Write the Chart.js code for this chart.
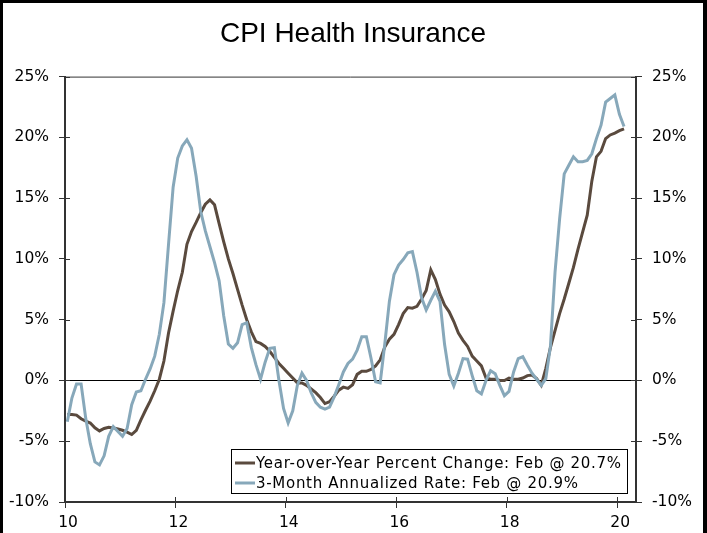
<!DOCTYPE html>
<html>
<head>
<meta charset="utf-8">
<title>CPI Health Insurance</title>
<script src="https://cdn.jsdelivr.net/npm/chart.js@4.4.1/dist/chart.umd.min.js"></script>
<style>
  html, body { margin: 0; padding: 0; background: #fff; }
  #wrap { width: 707px; height: 533px; }
</style>
</head>
<body>
<div id="wrap"><canvas id="cpiChart" width="707" height="533"></canvas></div>
<script>
// monthly data, Jan 2010 .. Feb 2020
const startYear = 2010;
const yoyChange = [
  -2.8, -2.8, -2.85, -3.15, -3.35, -3.5, -3.9, -4.15, -3.95, -3.85, -3.9, -4.0,
  -4.1, -4.25, -4.45, -4.1, -3.25, -2.45, -1.7, -0.85, 0.1, 1.6, 3.9, 5.7,
  7.4, 8.9, 11.2, 12.25, 13.0, 13.8, 14.5, 14.85, 14.45, 12.9, 11.4, 10.0,
  8.8, 7.5, 6.2, 5.0, 4.0, 3.2, 3.05, 2.8, 2.4, 1.9, 1.4, 1.0,
  0.6, 0.2, -0.2, -0.2, -0.4, -0.7, -1.0, -1.4, -1.9, -1.75, -1.3, -0.8,
  -0.55, -0.65, -0.35, 0.5, 0.75, 0.75, 0.9, 1.2, 1.7, 2.75, 3.4, 3.8,
  4.6, 5.5, 6.0, 5.95, 6.1, 6.7, 7.4, 9.1, 8.3, 7.1, 6.2, 5.65,
  4.85, 3.9, 3.3, 2.8, 2.0, 1.6, 1.2, 0.2, 0.1, 0.1, 0.0, 0.0,
  0.2, 0.1, 0.1, 0.2, 0.4, 0.45, 0.15, -0.4, 1.0, 2.7, 4.1, 5.5,
  6.7, 8.0, 9.3, 10.8, 12.2, 13.6, 16.4, 18.4, 18.85, 19.9, 20.2, 20.35,
  20.55, 20.7
];
const annualized3m = [
  -3.4, -1.45, -0.3, -0.3, -3.1, -5.2, -6.7, -6.95, -6.2, -4.6, -3.8, -4.2,
  -4.6, -3.95, -2.0, -0.95, -0.85, 0.1, 0.95, 2.0, 3.8, 6.4, 11.2, 15.9,
  18.3, 19.3, 19.8, 19.1, 16.8, 13.9, 12.3, 11.0, 9.7, 8.2, 5.3, 3.0,
  2.65, 3.1, 4.6, 4.75, 2.7, 1.3, 0.1, 1.5, 2.65, 2.7, 0.0, -2.3,
  -3.5, -2.5, -0.4, 0.6, 0.0, -1.0, -1.8, -2.2, -2.35, -2.2, -1.35, -0.35,
  0.7, 1.4, 1.75, 2.5, 3.6, 3.6, 1.85, -0.1, -0.2, 3.0, 6.5, 8.7,
  9.5, 9.95, 10.5, 10.6, 8.9, 6.8, 5.8, 6.6, 7.35, 6.5, 2.95, 0.5,
  -0.45, 0.6, 1.8, 1.75, 0.4, -0.85, -1.1, 0.0, 0.8, 0.55, -0.4, -1.25,
  -0.9, 0.7, 1.8, 1.95, 1.25, 0.6, 0.1, -0.4, 0.15, 2.8, 8.9, 13.3,
  17.0, 17.7, 18.4, 18.0, 18.0, 18.1, 18.65, 19.9, 21.0, 22.9, 23.2, 23.5,
  21.9, 20.9
];
const seriesLabels = [
  'Year-over-Year Percent Change: Feb @ 20.7%',
  '3-Month Annualized Rate: Feb @ 20.9%'
];
const yearTicks = [2010, 2012, 2014, 2016, 2018, 2020];
const pctTicks = [-10, -5, 0, 5, 10, 15, 20, 25];

// each month is drawn in the middle of its slot
const toPoints = vals => vals.map((v, i) => ({ x: startYear + (i + 0.5) / 12, y: v }));

const tickFont = { family: '"DejaVu Sans", Verdana, sans-serif', size: 15.5 };
const axisColor = '#333';

// black frame round the picture
const frame = {
  id: 'frame',
  afterDraw(chart) {
    const { ctx, width, height } = chart;
    ctx.save();
    ctx.fillStyle = '#000';
    ctx.fillRect(0, 0, 3, height);
    ctx.fillRect(0, 0, width, 3);
    ctx.fillRect(width - 4, 0, 4, height);
    ctx.restore();
  }
};

// top edge of the plot box + the inner half of the tick marks
const plotBox = {
  id: 'plotBox',
  beforeDatasetsDraw(chart) {
    const { ctx, chartArea: a, scales } = chart;
    ctx.save();
    ctx.strokeStyle = axisColor;
    ctx.lineWidth = 1;
    ctx.beginPath();
    ctx.moveTo(a.left, a.top + 0.5);
    ctx.lineTo(a.right, a.top + 0.5);
    pctTicks.forEach(v => {
      const py = Math.round(scales.y.getPixelForValue(v)) + 0.5;
      ctx.moveTo(a.left, py); ctx.lineTo(a.left + 5, py);
      ctx.moveTo(a.right - 5, py); ctx.lineTo(a.right, py);
    });
    yearTicks.forEach(v => {
      const px = Math.round(scales.x.getPixelForValue(v)) + 0.5;
      ctx.moveTo(px, a.bottom - 5); ctx.lineTo(px, a.bottom);
    });
    ctx.stroke();
    ctx.restore();
  }
};

// boxed legend in the lower right of the plot
const legendBox = {
  id: 'legendBox',
  afterDraw(chart) {
    const { ctx, chartArea: a } = chart;
    const sets = chart.data.datasets;
    const spacing = 0.7;
    ctx.save();
    ctx.font = '15px "DejaVu Sans", Verdana, sans-serif';
    const tw = Math.max(...sets.map(d => ctx.measureText(d.label).width + d.label.length * spacing));
    ctx.letterSpacing = spacing + 'px';
    const right = a.right - 9, bottom = a.bottom - 9;
    const left = Math.round(right - tw - 30), top = bottom - 44;
    ctx.fillStyle = '#fff';
    ctx.fillRect(left, top, right - left, bottom - top);
    ctx.strokeStyle = '#000';
    ctx.lineWidth = 1;
    ctx.strokeRect(left + 0.5, top + 0.5, right - left, bottom - top);
    sets.forEach((d, k) => {
      const y = top + 14 + k * 20;
      ctx.strokeStyle = d.borderColor;
      ctx.lineWidth = 3;
      ctx.beginPath();
      ctx.moveTo(left + 4, y);
      ctx.lineTo(left + 24, y);
      ctx.stroke();
      ctx.fillStyle = '#000';
      ctx.textBaseline = 'middle';
      ctx.fillText(d.label, left + 25, y + 1);
    });
    ctx.restore();
  }
};

const pctAxis = (position, width) => ({
  position,
  min: -10,
  max: 25,
  afterBuildTicks: s => { s.ticks = pctTicks.map(v => ({ value: v })); },
  afterFit: s => { s.width = width; },
  grid: {
    drawOnChartArea: position === 'left',
    color: c => (c.tick && c.tick.value === 0 ? '#000' : 'rgba(0,0,0,0)'),
    tickColor: axisColor,
    tickLength: 6
  },
  border: { color: axisColor, width: 2 },
  ticks: { font: tickFont, color: '#000', padding: 10, callback: v => v + '%' }
});

const ctx = document.getElementById('cpiChart').getContext('2d');
const cpiChart = new Chart(ctx, {
  type: 'line',
  data: {
    datasets: [{
      label: seriesLabels[0],
      data: toPoints(yoyChange),
      borderColor: '#5a4a3e',
      borderWidth: 3,
      pointRadius: 0,
      tension: 0,
      yAxisID: 'y',
      order: 1
    }, {
      label: seriesLabels[1],
      data: toPoints(annualized3m),
      borderColor: '#87a8ba',
      borderWidth: 3,
      pointRadius: 0,
      tension: 0,
      yAxisID: 'y',
      order: 0
    }]
  },
  options: {
    responsive: false,
    animation: false,
    layout: { padding: { left: 3, right: 4, top: 0, bottom: 0 } },
    plugins: {
      legend: { display: false },
      tooltip: { enabled: false },
      title: {
        display: true,
        text: 'CPI Health Insurance',
        color: '#000',
        font: { family: '"Liberation Sans", Arial, sans-serif', size: 28, weight: 'normal' },
        padding: { top: 17, bottom: 26 }
      }
    },
    scales: {
      x: {
        type: 'linear',
        min: startYear,
        max: startYear + 124.1 / 12,
        afterBuildTicks: s => { s.ticks = yearTicks.map(v => ({ value: v })); },
        afterFit: s => { s.height = 31; },
        grid: { drawOnChartArea: false, tickColor: axisColor, tickLength: 6 },
        border: { color: axisColor, width: 2 },
        ticks: {
          font: tickFont,
          color: '#000',
          padding: 6,
          labelOffset: 3,
          maxRotation: 0,
          autoSkip: false,
          callback: v => String(v).slice(2)
        }
      },
      y: pctAxis('left', 62),
      y2: pctAxis('right', 67)
    }
  },
  plugins: [frame, plotBox, legendBox]
});
</script>
</body>
</html>
